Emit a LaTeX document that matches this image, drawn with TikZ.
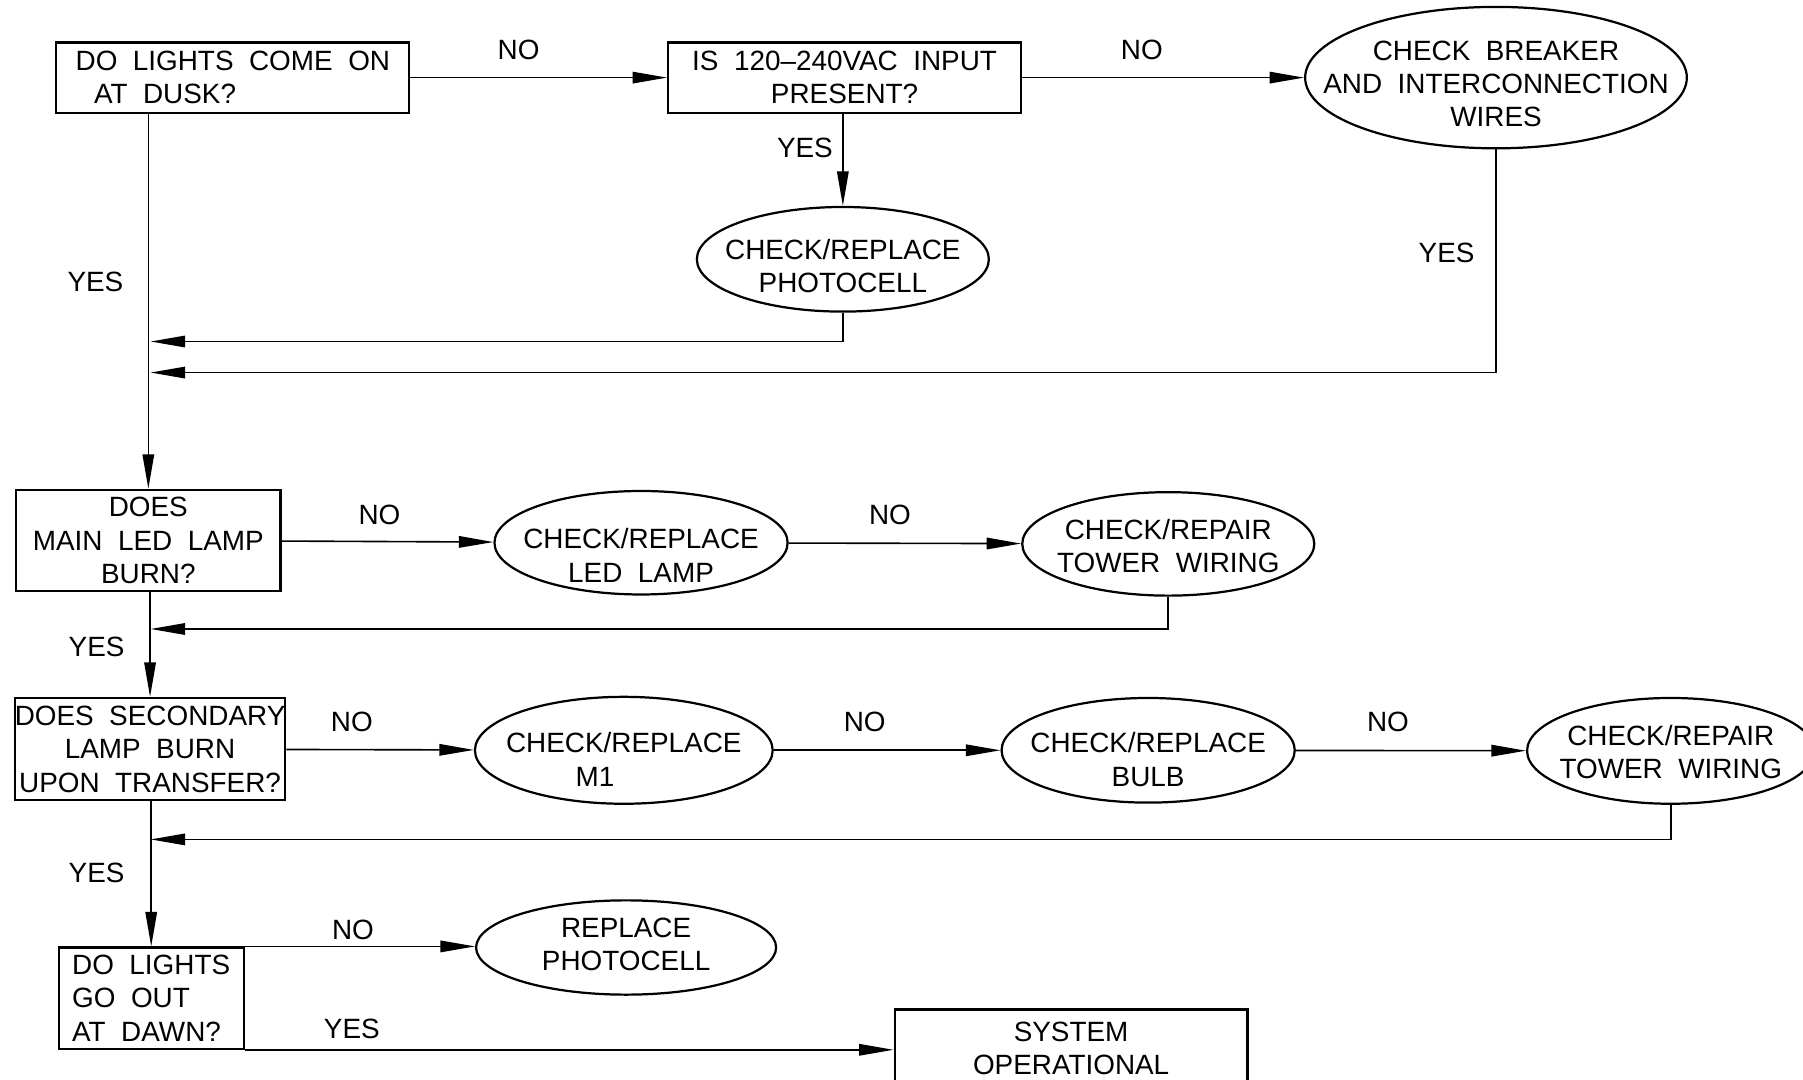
\documentclass[tikz,border=0pt]{standalone}
\usepackage{fontspec}
\setmainfont[WordSpace=2]{Liberation Sans}
\usetikzlibrary{arrows.meta, shapes.geometric}
\usetikzlibrary{positioning}

% text of an ellipse, kept from widening the shape (optional: how far to lower it)
\newcommand{\ovaltext}[2][0pt]{\raisebox{-#1}[\height][\depth]{\makebox[0pt]{\begin{tabular}{@{}c@{}}#2\end{tabular}}}}

\tikzset{
	chart/.style={font=\fontsize{13.8}{16.5}\selectfont},
	qbox/.style={draw, line width=1.1pt, rectangle, align=center, inner sep=0pt},
	act/.style={draw, line width=1.1pt, ellipse, inner sep=0pt},
	flow/.style={line width=0.8pt, -{Triangle[length=0.6cm, width=0.2cm]}},
	lbl/.style={inner sep=0pt}
}

\begin{document}
\begin{tikzpicture}[x=0.02cm, y=-0.02cm, chart]
		\clip (0,0) rectangle (1568,939);
		
		% questions
		\node[qbox, minimum width=6.14cm, minimum height=1.22cm, align=left] (dusk) at (202.5, 67.5) {DO LIGHTS COME ON\\\hspace*{0.32cm}AT DUSK?};
		\node[qbox, minimum width=6.14cm, minimum height=1.22cm] (input) at (734.5, 67.5) {IS 120--240VAC INPUT\\PRESENT?};
		\node[qbox, minimum width=4.6cm, minimum height=1.76cm] (mainlamp) at (129, 470) {DOES\\MAIN LED LAMP\\BURN?};
		\node[qbox, minimum width=4.7cm, minimum height=1.78cm] (second) at (130.5, 651.5) {DOES SECONDARY\\LAMP BURN\\UPON TRANSFER?};
		\node[qbox, minimum width=3.22cm, minimum height=1.76cm, align=left] (dawn) at (131.5, 868) {DO LIGHTS\\GO OUT\\AT DAWN?};
		\node[qbox, minimum width=6.14cm, minimum height=1.36cm] (sysok) at (931.5, 912) {SYSTEM\\OPERATIONAL};
		
		% actions
		\node[act, minimum width=6.64cm, minimum height=2.38cm] (breaker) at (1301, 67.5) {\ovaltext[0.16cm]{CHECK BREAKER\\AND INTERCONNECTION\\WIRES}};
		\node[act, minimum width=5.08cm, minimum height=1.82cm] (photo) at (733, 225.5) {\ovaltext[0.18cm]{CHECK/REPLACE\\PHOTOCELL}};
		\node[act, minimum width=5.1cm, minimum height=1.8cm] (ledlamp) at (557.5, 472) {\ovaltext[0.28cm]{CHECK/REPLACE\\LED LAMP}};
		\node[act, minimum width=5.08cm, minimum height=1.8cm] (towerA) at (1016, 473) {\ovaltext[0.1cm]{CHECK/REPAIR\\TOWER WIRING}};
		\node[act, minimum width=5.18cm, minimum height=1.86cm] (mone) at (542.5, 652.5) {\ovaltext[0.22cm]{CHECK/REPLACE\\M1\hspace*{1cm}}};
		\node[act, minimum width=5.1cm, minimum height=1.82cm] (bulb) at (998.5, 652.5) {\ovaltext[0.22cm]{CHECK/REPLACE\\BULB}};
		\node[act, minimum width=5.0cm, minimum height=1.84cm] (towerB) at (1453, 653) {\ovaltext[0.08cm]{CHECK/REPAIR\\TOWER WIRING}};
		\node[act, minimum width=5.22cm, minimum height=1.54cm] (photoB) at (544.5, 824) {\ovaltext{REPLACE\\PHOTOCELL}};
		
		% return points on the trunk
		\coordinate (backA) at (131, 297);
		\coordinate (backB) at (131, 324);
		\coordinate (backC) at (131, 547);
		\coordinate (backD) at (131, 730);
		
		% connectors
		\draw[flow] (dusk) -- (input);
		\draw[flow] (input) -- (breaker);
		\draw[flow] (input.south -| photo.north) -- (photo.north);
		\draw[flow] (photo.south) |- (backA);
		\draw[flow] (breaker.south) |- (backB);
		\draw[flow] (dusk.south -| mainlamp.north) -- (mainlamp.north);
		\draw[flow] (mainlamp) -- (ledlamp);
		\draw[flow] (ledlamp) -- (towerA);
		\draw[flow] (towerA.south) |- (backC);
		\draw[flow] (mainlamp.south -| second.north) -- (second.north);
		\draw[flow] (second) -- (mone);
		\draw[flow] (mone) -- (bulb);
		\draw[flow] (bulb) -- (towerB);
		\draw[flow] (towerB.south) |- (backD);
		\draw[flow] (second.south -| dawn.north) -- (dawn.north);
		\draw[flow] (dawn.north east) -- (dawn.north east -| photoB.west);
		\draw[flow] (dawn.south east) -- (dawn.south east -| sysok.west);
		
		% labels
		\node[lbl] (noA) at (451, 43) {NO};
		\node[lbl] (noB) at (993, 43) {NO};
		\node[lbl] (yesA) at (700, 129) {YES};
		\node[lbl] (yesB) at (1258, 220) {YES};
		\node[lbl] (yesC) at (83, 245) {YES};
		\node[lbl] (noC) at (330, 448) {NO};
		\node[lbl] (noD) at (774, 448) {NO};
		\node[lbl] (yesD) at (84, 563) {YES};
		\node[lbl] (noE) at (306, 628) {NO};
		\node[lbl] (noF) at (752, 628) {NO};
		\node[lbl] (noG) at (1207, 628) {NO};
		\node[lbl] (yesE) at (84, 759) {YES};
		\node[lbl] (noH) at (307, 809) {NO};
		\node[lbl] (yesF) at (306, 895) {YES};
	\end{tikzpicture}
\end{document}
